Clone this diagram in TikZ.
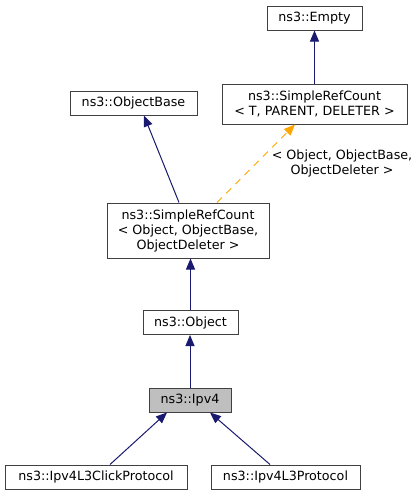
\documentclass[tikz,border=0pt]{standalone}
\usepackage{fontspec}
\setmainfont{DejaVu Sans}
\usetikzlibrary{arrows.meta}

\definecolor{edgeblue}{HTML}{191970}
\definecolor{edgeorange}{HTML}{FFA500}
\definecolor{boxgray}{HTML}{404040}
\definecolor{selgray}{HTML}{BFBFBF}

\tikzset{
  cls/.style={draw=boxgray, line width=1pt, fill=white, inner sep=0pt,
    align=center, font=\fontsize{12.7}{15}\selectfont},
  inherit/.style={draw=edgeblue, line width=1pt,
    -{Triangle[length=11pt,width=9pt]}},
  tmpl/.style={draw=edgeorange, line width=1pt, dash pattern=on 7pt off 6pt,
    -{Triangle[length=11pt,width=9pt]}}
}

\begin{document}
\begin{tikzpicture}[x=1pt,y=-1pt]
\useasboundingbox (0,0) rectangle (420,496);

% top row
\node[cls, minimum width=95pt, minimum height=24pt] (empty) at (314.5,18) {ns3::Empty};
\node[cls, minimum width=185pt, minimum height=40pt] (srct) at (314.5,104)
  {ns3::SimpleRefCount\\< T, PARENT, DELETER >};
\node[cls, minimum width=127pt, minimum height=24pt] (objbase) at (133.5,103) {ns3::ObjectBase};

% middle
\node[cls, minimum width=162pt, minimum height=55pt] (srcobj) at (188,230.5)
  {ns3::SimpleRefCount\\< Object, ObjectBase,\\ObjectDeleter >};
\node[cls, minimum width=95pt, minimum height=24pt] (object) at (190.5,322.5) {ns3::Object};
\node[cls, fill=selgray, minimum width=82pt, minimum height=24pt] (ipv4) at (190,400) {ns3::Ipv4};

% bottom row
\node[cls, minimum width=182pt, minimum height=24pt] (click) at (96,477) {ns3::Ipv4L3ClickProtocol};
\node[cls, minimum width=149pt, minimum height=24pt] (l3) at (285.5,477) {ns3::Ipv4L3Protocol};

% template label
\node[align=center, inner sep=0pt, font=\fontsize{12.7}{15}\selectfont] (lbl) at (342,163)
  {< Object, ObjectBase,\\ObjectDeleter >};

% edges
\draw[inherit] (srct.north) -- (empty.south);
\draw[inherit] ([xshift=-9pt]srcobj.north) -- ([xshift=10.5pt]objbase.south);
\draw[tmpl] ([xshift=29pt]srcobj.north) -- ([xshift=-19.5pt]srct.south);
\draw[inherit] (object.north) -- (object.north |- srcobj.south);
\draw[inherit] (ipv4.north) -- (ipv4.north |- object.south);
\draw[inherit] ([xshift=14pt]click.north) -- ([xshift=-23pt]ipv4.south);
\draw[inherit] ([xshift=-15.5pt]l3.north) -- ([xshift=20pt]ipv4.south);

\end{tikzpicture}
\end{document}
